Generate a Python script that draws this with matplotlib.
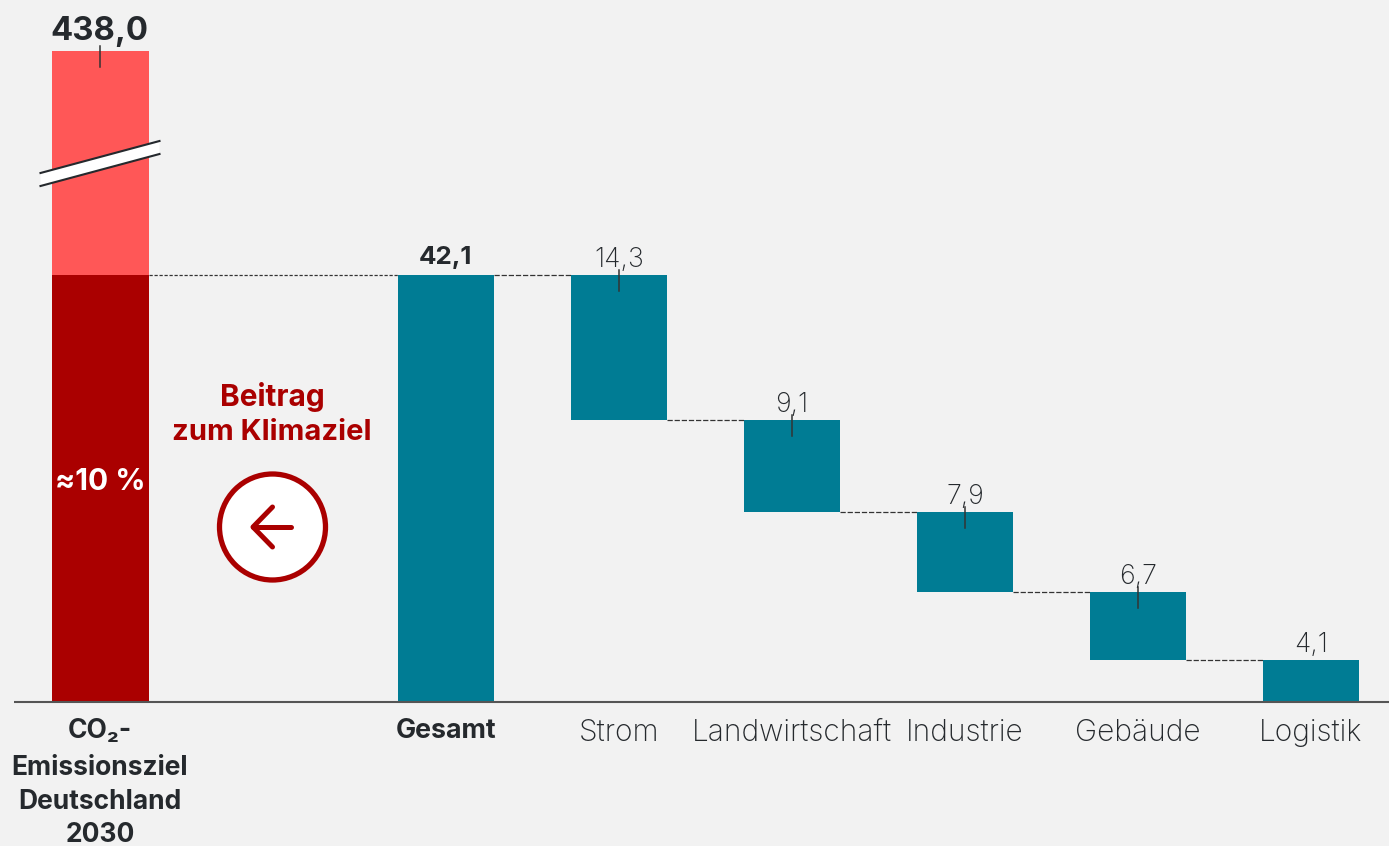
import numpy as np
import matplotlib
matplotlib.use("Agg")
import matplotlib.pyplot as plt
from matplotlib.patches import Circle, Polygon
from matplotlib.transforms import Affine2D

categories = ["Strom", "Landwirtschaft", "Industrie", "Gebäude", "Logistik"]
values = [14.3, 9.1, 7.9, 6.7, 4.1]
value_labels = ["14,3", "9,1", "7,9", "6,7", "4,1"]
total = 42.1
total_label = "42,1"
total_name = "Gesamt"
target = 438.0
target_label = "438,0"
share_label = "≈10 %"
target_name = "CO₂-\nEmissionsziel\nDeutschland\n2030"
callout = "Beitrag\nzum Klimaziel"

W, H = 1389, 846
BG, RED, DARKRED, TEAL, INK = "#F2F2F2", "#FF5757", "#AA0000", "#007C94", "#25292D"
FONT = "Inter"
LIGHT = "Inter"

K = 0.0558
def fwd(y):
    y = np.asarray(y, dtype=float)
    return np.where(y <= total, y, total + (y - total) * K)
def inv(y):
    y = np.asarray(y, dtype=float)
    return np.where(y <= total, y, total + (y - total) / K)

fig = plt.figure(figsize=(W / 100, H / 100), dpi=100, facecolor=BG)
ax = fig.add_axes([0, 0, 1, 1], facecolor=BG)
ax.set_yscale("function", functions=(fwd, inv))
PXU = 10.14
ax.set_ylim(-(H - 702) / PXU, float(inv(702 / PXU)))
STEP = 173.0
X0 = 100.2
ax.set_xlim(-X0 / STEP, (W - X0) / STEP)
ax.axis("off")
px = Affine2D().scale(1, -1).translate(0, H)
bw = 0.553
bw0 = 0.56

# target bar
ax.bar(0, target, bw0, color=RED, zorder=2)
ax.bar(0, total, bw0, color=DARKRED, zorder=3)
# total + waterfall
ax.bar(2, total, bw, color=TEAL, zorder=2)
top = total
tops = []
for i, v in enumerate(values):
    ax.bar(3 + i, v, bw, bottom=top - v, color=TEAL, zorder=2)
    tops.append(top)
    top -= v

# connectors
fine = dict(color="#333333", lw=0.9, ls=(0, (2.6, 1.4)), zorder=1)
dash = dict(color="#333333", lw=0.9, ls=(0, (4.2, 1.5)), zorder=1)
ax.plot([bw0 / 2, 2 - bw / 2], [total, total], **fine)
ax.plot([2 + bw / 2, 3 - bw / 2], [total, total], **dash)
for i, v in enumerate(values[:-1]):
    ax.plot([3 + i + bw / 2, 4 + i - bw / 2], [tops[i] - v] * 2, **dash)

# baseline
ax.plot([14, W], [702, 702], color="#555555", lw=1.5, transform=px, zorder=5, solid_capstyle="butt")

# ticks on value labels
def tick(xval, yval):
    xp_, yp_ = ax.transData.transform((xval, yval))
    xp_ -= 0.4
    yp_ = H - yp_
    ax.plot([xp_, xp_], [yp_ - 5, yp_ + 15.5], color="#333333", lw=1.1, transform=px, zorder=6)
tick(0, target)
for i in range(len(values) - 1):
    tick(3 + i, tops[i])

# break mark
ax.add_patch(Polygon([(40.5, 173), (159.5, 141), (159.5, 154), (40.5, 186)], closed=True,
                     facecolor="white", edgecolor="none", transform=px, zorder=7))
for yy in (0, 13):
    ax.plot([40.5, 159.5], [173 + yy, 141 + yy], color=INK, lw=1.5, transform=px, zorder=8)

# texts
def T(x, y, s, **kw):
    kw.setdefault("ha", "center")
    kw.setdefault("va", "baseline")
    kw.setdefault("family", FONT)
    kw.setdefault("color", INK)
    return ax.text(x, y, s, transform=px, zorder=10, **kw)

T(99.5, 40, target_label, fontsize=23.7, weight="bold")
T(446, 264, total_label, fontsize=18.7, weight="bold")
T(100.5, 490, share_label, fontsize=21.5, weight="bold", color="white")
beitrag, klima = callout.split("\n")
T(272, 406, beitrag, fontsize=21.5, weight="bold", color=DARKRED)
T(271.5, 440, klima, fontsize=21, weight="bold", color=DARKRED)
for i, s in enumerate(value_labels):
    xp = ax.transData.transform((3 + i, 0))[0]
    yp = H - ax.transData.transform((0, tops[i]))[1]
    T(xp - 0.2, yp - 8, s, fontsize=19.3, family=LIGHT, weight="light", color="#25292D")
for i, s in enumerate(categories):
    xp = ax.transData.transform((3 + i, 0))[0]
    T(xp - 0.2, 741, s, fontsize=21.5, family=LIGHT, weight="light", color="#25292D")
T(446, 738, total_name, fontsize=19.3, weight="bold")
for line, yb in zip(target_name.split("\n"), (738, 775, 809, 842)):
    T(100, yb, line, fontsize=19, weight="bold")

# circle with arrow
ax.add_patch(Circle((272.5, 527), 53, facecolor="white", edgecolor=DARKRED, lw=3.8, transform=px, zorder=7))
ax.plot([272.5, 253, 272.5], [507, 527, 547], color=DARKRED, lw=3.6, transform=px, zorder=8,
        solid_capstyle="round", solid_joinstyle="round")
ax.plot([253, 291], [527, 527], color=DARKRED, lw=3.6, transform=px, zorder=8, solid_capstyle="round")

fig.savefig("out.png", dpi=100, facecolor=BG)
